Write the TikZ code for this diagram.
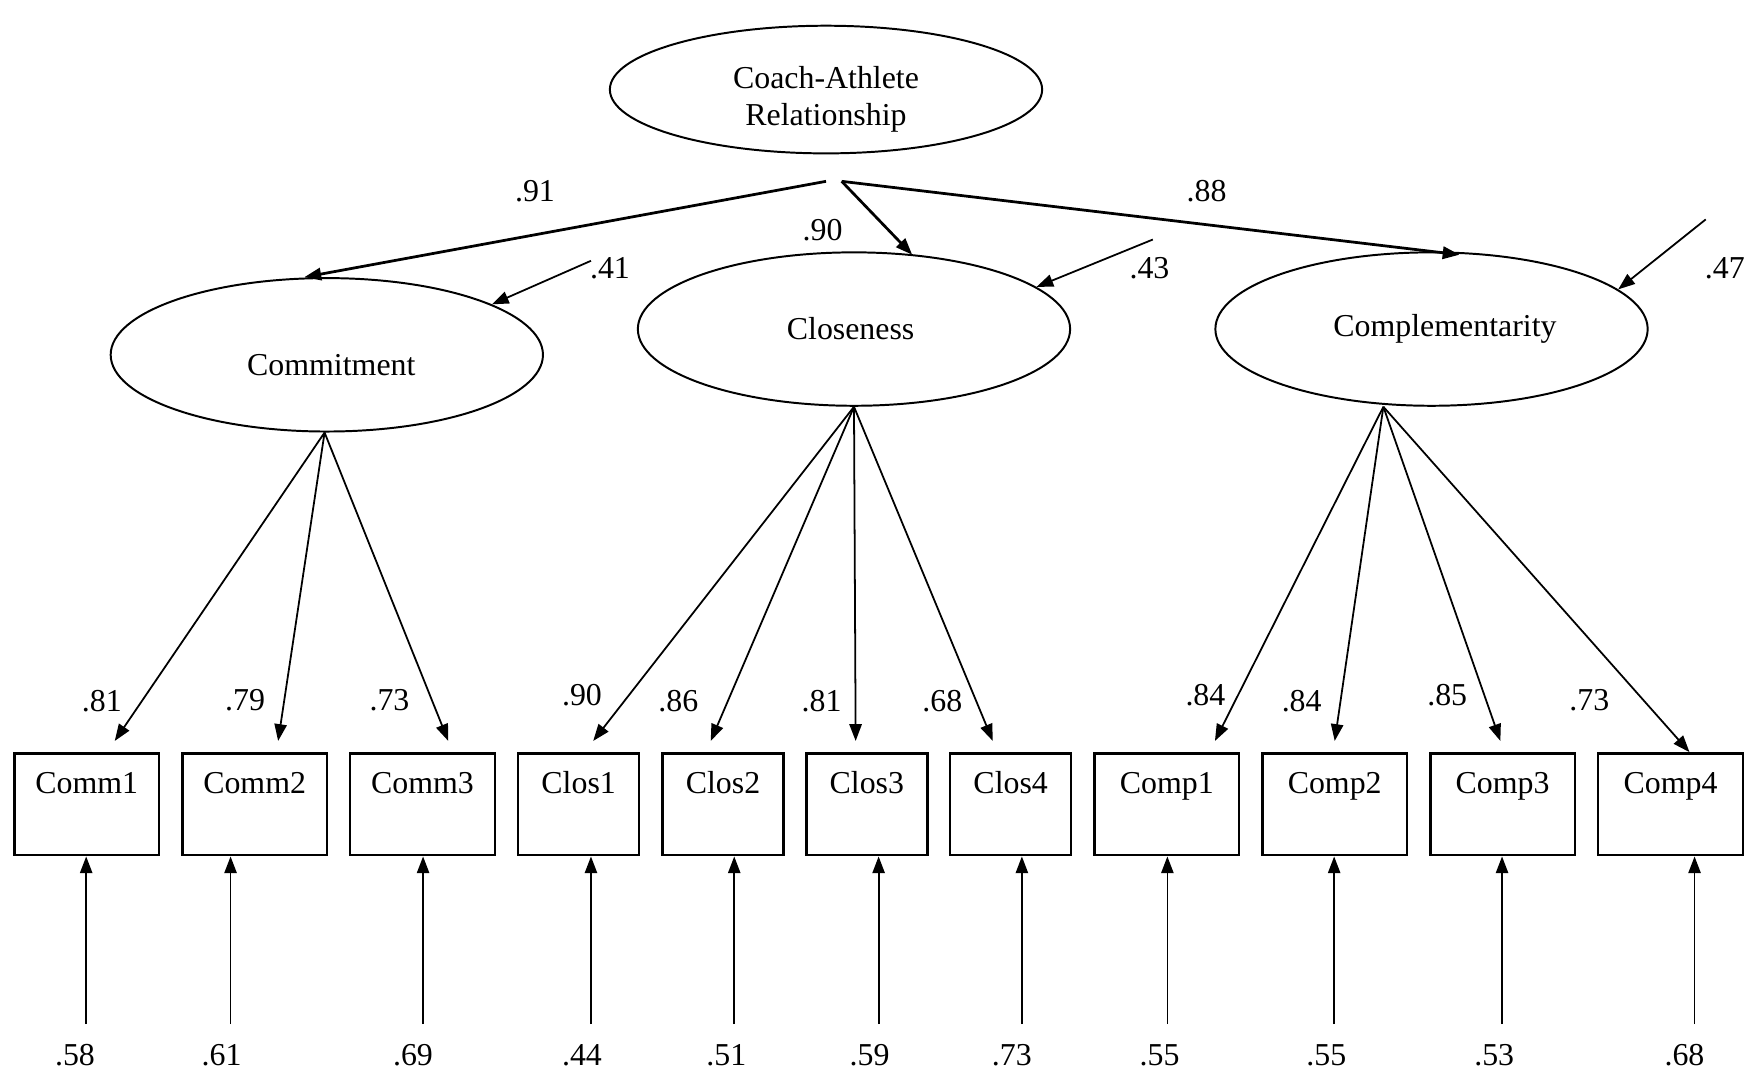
\documentclass[tikz,border=0pt]{standalone}
\usepackage{fontspec}
\setmainfont{Liberation Serif}
\usetikzlibrary{shapes.geometric,arrows.meta}

\tikzset{
  latent/.style={draw, ellipse, line width=0.5pt, minimum width=3.86cm, minimum height=1.37cm, inner sep=0pt},
  item/.style={draw, rectangle, line width=0.6pt, minimum width=1.29cm, inner sep=0pt, text height=0.36cm, text depth=0.55cm, anchor=north},
  itemn/.style={item, minimum width=1.08cm},
  load/.style={-{Triangle[length=1.5mm,width=1.1mm]}, line width=0.45pt},
  num/.style={inner sep=0pt}
}

\begin{document}
\begin{tikzpicture}[x=0.01cm, y=-0.01cm, font=\fontsize{8.1}{9.3}\selectfont]
\useasboundingbox (0,0) rectangle (1568,960);

% Draw the latent variables
\node[latent, minimum height=1.14cm, label={[align=center, yshift=-0.085cm]center:Coach-Athlete\\Relationship}] (car) at (738,80) {};
\node[latent, label={[shift={(0.04cm,-0.09cm)}]center:Commitment}] (commit) at (292,317) {};
\node[latent, label={[xshift=-0.03cm]center:Closeness}] (close) at (763,294) {};
\node[latent, label={[xshift=0.12cm]center:Complementarity}] (compl) at (1279,294) {};

% Draw the observed variables
\node[item] (comm1) at (77.5,672) {Comm1};
\node[item] (comm2) at (227.5,672) {Comm2};
\node[item] (comm3) at (377.5,672) {Comm3};
\node[itemn] (clos1) at (517,672) {Clos1};
\node[itemn] (clos2) at (646,672) {Clos2};
\node[itemn] (clos3) at (774.5,672) {Clos3};
\node[itemn] (clos4) at (903,672) {Clos4};
\node[item] (comp1) at (1042.5,672) {Comp1};
\node[item] (comp2) at (1192.5,672) {Comp2};
\node[item] (comp3) at (1342.5,672) {Comp3};
\node[item] (comp4) at (1492.5,672) {Comp4};

% Second order paths
\coordinate (carL) at (738,162);
\coordinate (carR) at (752,162);
\draw[load, line width=0.7pt] (carL) -- ([xshift=-0.2cm]commit.north);
\draw[load, line width=0.7pt] (carR) -- ([shift={(52,3)}]close.north);
\draw[load, line width=0.7pt] (carR) -- ([shift={(25,3)}]compl.north);
\node[num] (g1) at (478,171) {.91};
\node[num] (g2) at (735,206) {.90};
\node[num] (g3) at (1078,171) {.88};

% Disturbances
\coordinate (d1) at (528,233);
\coordinate (d2) at (1030,214);
\coordinate (d3) at (1524,196);
\draw[load] (d1) -- (commit.17);
\draw[load] (d2) -- (close.13);
\draw[load] (d3) -- (compl.12);
\node[num] (u1) at (545,240) {.41};
\node[num] (u2) at (1027,240) {.43};
\node[num] (u3) at (1541,240) {.47};

% Factor loadings
\draw[load] ([xshift=-0.02cm]commit.south) -- ([shift={(25,-10)}]comm1.north);
\draw[load] ([xshift=-0.02cm]commit.south) -- ([shift={(21,-10)}]comm2.north);
\draw[load] ([xshift=-0.02cm]commit.south) -- ([shift={(23,-10)}]comm3.north);
\draw[load] (close.south) -- ([shift={(13,-10)}]clos1.north);
\draw[load] (close.south) -- ([shift={(-11,-10)}]clos2.north);
\draw[load] (close.south) -- ([shift={(-10,-10)}]clos3.north);
\draw[load] (close.south) -- ([shift={(-16,-10)}]clos4.north);
\draw[load] ([xshift=-0.43cm]compl.south) -- ([shift={(43,-10)}]comp1.north);
\draw[load] ([xshift=-0.43cm]compl.south) -- ([shift={(0,-10)}]comp2.north);
\draw[load] ([xshift=-0.43cm]compl.south) -- ([shift={(-2,-10)}]comp3.north);
\draw[load] ([xshift=-0.43cm]compl.south) -- ([shift={(17,0)}]comp4.north);
\node[num] (l1) at (91,626) {.81};
\node[num] (l2) at (219,626) {.79};
\node[num] (l3) at (348,626) {.73};
\node[num] (l4) at (520,621) {.90};
\node[num] (l5) at (606,626) {.86};
\node[num] (l6) at (734,626) {.81};
\node[num] (l7) at (842,626) {.68};
\node[num] (l8) at (1077,621) {.84};
\node[num] (l9) at (1163,626) {.84};
\node[num] (l10) at (1293,621) {.85};
\node[num] (l11) at (1420,626) {.73};

% Error terms
\coordinate (e1) at (77,915);
\coordinate (e2) at (206,915);
\coordinate (e3) at (378,915);
\coordinate (e4) at (528,915);
\coordinate (e5) at (656,915);
\coordinate (e6) at (785,915);
\coordinate (e7) at (913,915);
\coordinate (e8) at (1043,915);
\coordinate (e9) at (1192,915);
\coordinate (e10) at (1342,915);
\coordinate (e11) at (1514,915);
\draw[load] (e1) -- (e1 |- comm1.south);
\draw[load] (e2) -- (e2 |- comm2.south);
\draw[load] (e3) -- (e3 |- comm3.south);
\draw[load] (e4) -- (e4 |- clos1.south);
\draw[load] (e5) -- (e5 |- clos2.south);
\draw[load] (e6) -- (e6 |- clos3.south);
\draw[load] (e7) -- (e7 |- clos4.south);
\draw[load] (e8) -- (e8 |- comp1.south);
\draw[load] (e9) -- (e9 |- comp2.south);
\draw[load] (e10) -- (e10 |- comp3.south);
\draw[load] (e11) -- (e11 |- comp4.south);
\node[num] (r1) at (67,943) {.58};
\node[num] (r2) at (198,943) {.61};
\node[num] (r3) at (369,943) {.69};
\node[num] (r4) at (520,943) {.44};
\node[num] (r5) at (649,943) {.51};
\node[num] (r6) at (777,943) {.59};
\node[num] (r7) at (904,943) {.73};
\node[num] (r8) at (1036,943) {.55};
\node[num] (r9) at (1185,943) {.55};
\node[num] (r10) at (1335,943) {.53};
\node[num] (r11) at (1505,943) {.68};
\end{tikzpicture}
\end{document}
